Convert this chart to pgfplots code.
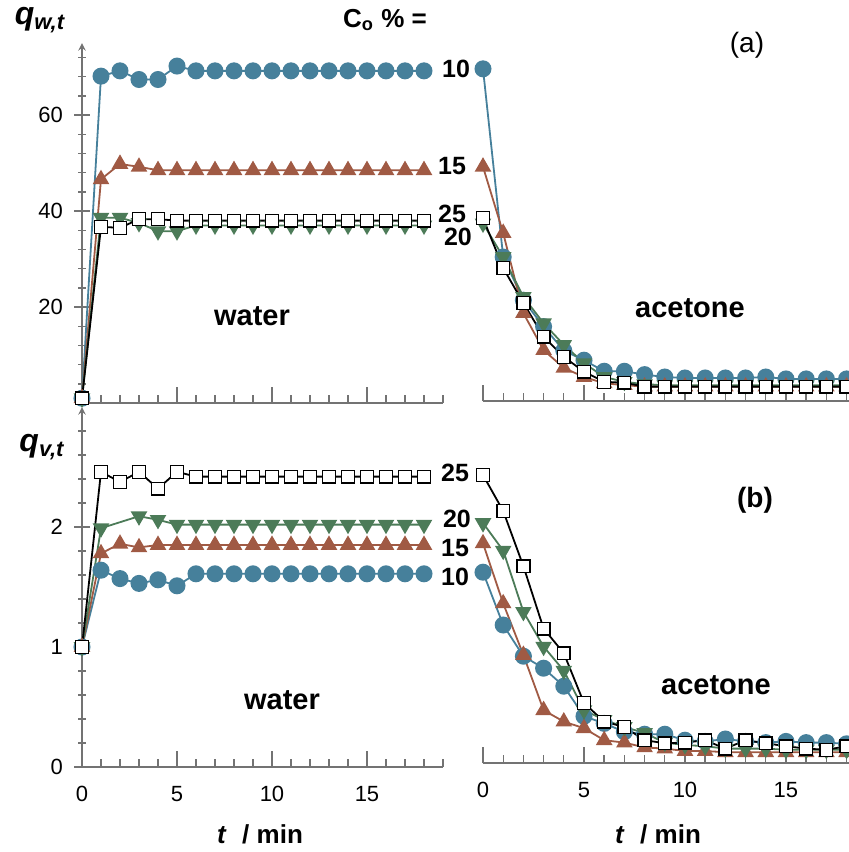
\documentclass[border=0pt]{standalone}
\usepackage{fontspec}
\setmainfont{Liberation Sans}
\usepackage{pgfplots}
\usepackage{pgfplotstable}
\pgfplotsset{compat=1.18}
\definecolor{cblue}{HTML}{46809B}
\definecolor{cbrown}{HTML}{A05A44}
\definecolor{cgreen}{HTML}{4C7B58}

% water / acetone, q_w,t
\pgfplotstableread{
t  c10   c15   c20   c25
0  1.0   1.0   1.0   1.0
1  68.1  46.6  38.6  36.7
2  69.2  49.8  38.6  36.5
3  67.4  49.2  37.5  38.3
4  67.4  48.5  35.8  38.3
5  70.2  48.5  35.8  38.0
6  69.2  48.5  37.0  38.0
7  69.2  48.5  37.0  38.0
8  69.2  48.5  37.0  38.0
9  69.2  48.5  37.0  38.0
10 69.2  48.5  37.0  38.0
11 69.2  48.5  37.0  38.0
12 69.2  48.5  37.0  38.0
13 69.2  48.5  37.0  38.0
14 69.2  48.5  37.0  38.0
15 69.2  48.5  37.0  38.0
16 69.2  48.5  37.0  38.0
17 69.2  48.5  37.0  38.0
18 69.2  48.5  37.0  38.0
}\qwwater
\pgfplotstableread{
t  c10   c15   c20   c25
0  69.2  48.8  37.0  38.1
1  30.0  35.0  30.0  27.7
2  21.0  18.3  21.7  20.4
3  15.5  10.6  16.2  13.4
4  10.5  6.9   11.7  9.2
5  8.5   5.0   7.9   6.1
6  6.2   3.7   5.0   4.0
7  6.2   3.3   4.0   3.8
8  5.5   3.0   3.5   3.0
9  5.0   3.0   3.3   3.0
10 4.8   3.0   3.3   3.0
11 4.8   3.0   3.3   3.0
12 4.8   3.0   3.3   3.0
13 4.8   3.0   3.3   3.0
14 5.0   3.0   3.3   3.0
15 4.6   3.0   3.3   3.0
16 4.6   3.0   3.3   3.0
17 4.6   3.0   3.3   3.0
18 4.6   3.0   3.3   3.0
}\qwacetone
% q_v,t
\pgfplotstableread{
t  c10   c15   c20   c25
0  1.00  1.00  1.00  1.00
1  1.64  1.78  1.99  2.46
2  1.57  1.86  nan   2.375
3  1.53  1.83  2.09  2.46
4  1.56  1.85  2.06  2.32
5  1.51  1.85  2.02  2.46
6  1.61  1.85  2.02  2.42
7  1.61  1.85  2.02  2.42
8  1.61  1.85  2.02  2.42
9  1.61  1.85  2.02  2.42
10 1.61  1.85  2.02  2.42
11 1.61  1.85  2.02  2.42
12 1.61  1.85  2.02  2.42
13 1.61  1.85  2.02  2.42
14 1.61  1.85  2.02  2.42
15 1.61  1.85  2.02  2.42
16 1.61  1.85  2.02  2.42
17 1.61  1.85  2.02  2.42
18 1.61  1.85  2.02  2.42
}\qvwater
\pgfplotstableread{
t  c10   c15   c20   c25
0  1.59  1.83  2.00  2.40
1  1.15  1.33  1.77  2.10
2  0.89  0.90  1.26  1.64
3  0.79  0.44  0.97  1.12
4  0.64  0.345 0.77  0.915
5  0.39  0.29  0.44  0.50
6  0.33  0.19  0.36  0.345
7  0.26  0.17  0.30  0.30
8  0.24  0.13  0.25  0.19
9  0.24  0.12  0.17  0.165
10 0.19  0.10  0.15  0.17
11 0.18  0.10  0.14  0.19
12 0.20  0.09  0.12  0.12
13 0.18  0.09  0.12  0.19
14 0.17  0.09  0.12  0.165
15 0.18  0.09  0.11  0.14
16 0.17  0.09  0.11  0.12
17 0.17  0.09  0.11  0.11
18 0.16  0.09  0.11  0.14
}\qvacetone

\pgfplotsset{
  panel/.style={
    scale only axis,
    axis x line=bottom,
    axis line style={draw=black!55, line width=0.7pt, -},
    tick style={draw=black!55, line width=0.7pt},
    tick align=inside,
    major tick length=8pt,
    minor tick length=4pt,
    tick label style={font=\fontsize{11}{13}\selectfont},
    /pgf/number format/assume math mode=true,
    xtick={0,5,10,15},
    minor xtick={0,...,19},
    xmin=0, ymin=0,
    height=180pt,
    clip=false,
    xticklabel style={yshift=-6pt},
    yticklabel style={xshift=-2pt},
  },
  leftpanel/.style={panel, axis y line=left, xmax=19, width=180.5pt},
  rightpanel/.style={panel, axis y line=none, ytick=\empty, xmax=18.15,
    width=183.3pt},
  s10/.style={color=cblue, line width=0.9pt, mark=*, mark size=3.8pt,
    mark options={fill=cblue, draw=cblue}},
  s15/.style={color=cbrown, line width=0.9pt, mark=triangle*, mark size=3.9pt,
    mark options={fill=cbrown, draw=cbrown}},
  s20/.style={color=cgreen, line width=0.9pt, mark=triangle*, mark size=3.9pt,
    mark options={fill=cgreen, draw=cgreen, rotate=180}},
  s25/.style={color=black, line width=0.9pt, mark=square*, mark size=3.2pt,
    mark options={fill=white, draw=black, line width=0.7pt}},
}
\newcommand{\lab}[1]{\fontsize{12.5}{14}\selectfont\bfseries #1}

\begin{document}
\begin{tikzpicture}
\useasboundingbox (0pt,0pt) rectangle (424.5pt,-426pt);
% (a) water
\begin{axis}[leftpanel, at={(41pt,-201.5pt)}, anchor=south west,
  ymax=75, ytick={20,40,60}, minor ytick={0,4,...,72}, xticklabels={}]
\addplot[s10] table[x=t, y=c10] {\qwwater};
\addplot[s15] table[x=t, y=c15] {\qwwater};
\addplot[s20] table[x=t, y=c20] {\qwwater};
\addplot[s25] table[x=t, y=c25] {\qwwater};
\end{axis}
% (a) acetone
\begin{axis}[rightpanel, at={(241.5pt,-200.5pt)}, anchor=south west,
  ymax=75, xticklabels={}]
\addplot[s10] table[x=t, y=c10] {\qwacetone};
\addplot[s15] table[x=t, y=c15] {\qwacetone};
\addplot[s20] table[x=t, y=c20] {\qwacetone};
\addplot[s25] table[x=t, y=c25] {\qwacetone};
\end{axis}
% (b) water
\begin{axis}[leftpanel, at={(41pt,-383.5pt)}, anchor=south west,
  ymax=3, ytick={0,1,2}, minor ytick={0,0.2,...,2.81}]
\addplot[s10] table[x=t, y=c10] {\qvwater};
\addplot[s15] table[x=t, y=c15] {\qvwater};
\addplot[s20] table[x=t, y=c20] {\qvwater};
\addplot[s25] table[x=t, y=c25] {\qvwater};
\end{axis}
% (b) acetone
\begin{axis}[rightpanel, at={(241.5pt,-381.5pt)}, anchor=south west,
  ymax=3]
\addplot[s10] table[x=t, y=c10] {\qvacetone};
\addplot[s15] table[x=t, y=c15] {\qvacetone};
\addplot[s20] table[x=t, y=c20] {\qvacetone};
\addplot[s25] table[x=t, y=c25] {\qvacetone};
\end{axis}

% annotations
\node[font=\fontsize{16}{18}\selectfont\bfseries\itshape] at (20pt,-10pt)
  {q\textsubscript{\fontsize{11}{12}\selectfont w,t}};
\node[font=\fontsize{16}{18}\selectfont\bfseries\itshape] at (21pt,-223.5pt)
  {q\textsubscript{\fontsize{11}{12}\selectfont v,t}};
\node[font=\fontsize{13}{15}\selectfont\bfseries] at (192.5pt,-10pt)
  {C\textsubscript{o} \% =};
\node[font=\fontsize{14}{16}\selectfont] at (373.5pt,-22.5pt) {(a)};
\node[font=\fontsize{14}{16}\selectfont\bfseries] at (377.5pt,-250pt) {(b)};

\node at (228pt,-34.5pt) {\lab{10}};
\node at (226pt,-83pt) {\lab{15}};
\node at (226pt,-107pt) {\lab{25}};
\node at (229pt,-118.5pt) {\lab{20}};

\node at (227.5pt,-236.5pt) {\lab{25}};
\node at (228.5pt,-259.5pt) {\lab{20}};
\node at (227.5pt,-274pt) {\lab{15}};
\node at (227.5pt,-288.5pt) {\lab{10}};

\node[font=\fontsize{14.5}{16}\selectfont\bfseries] at (126pt,-158pt) {water};
\node[font=\fontsize{14.5}{16}\selectfont\bfseries] at (345pt,-154pt) {acetone};
\node[font=\fontsize{14.5}{16}\selectfont\bfseries] at (141pt,-350pt) {water};
\node[font=\fontsize{14.5}{16}\selectfont\bfseries] at (358pt,-342.5pt) {acetone};

\node[font=\fontsize{13}{15}\selectfont\bfseries, inner sep=1pt] at (130pt,-417pt)
  {\textit{t}\hspace{0.6em}/ min};
\node[font=\fontsize{13}{15}\selectfont\bfseries, inner sep=1pt] at (329pt,-417pt)
  {\textit{t}\hspace{0.6em}/ min};
\end{tikzpicture}
\end{document}
